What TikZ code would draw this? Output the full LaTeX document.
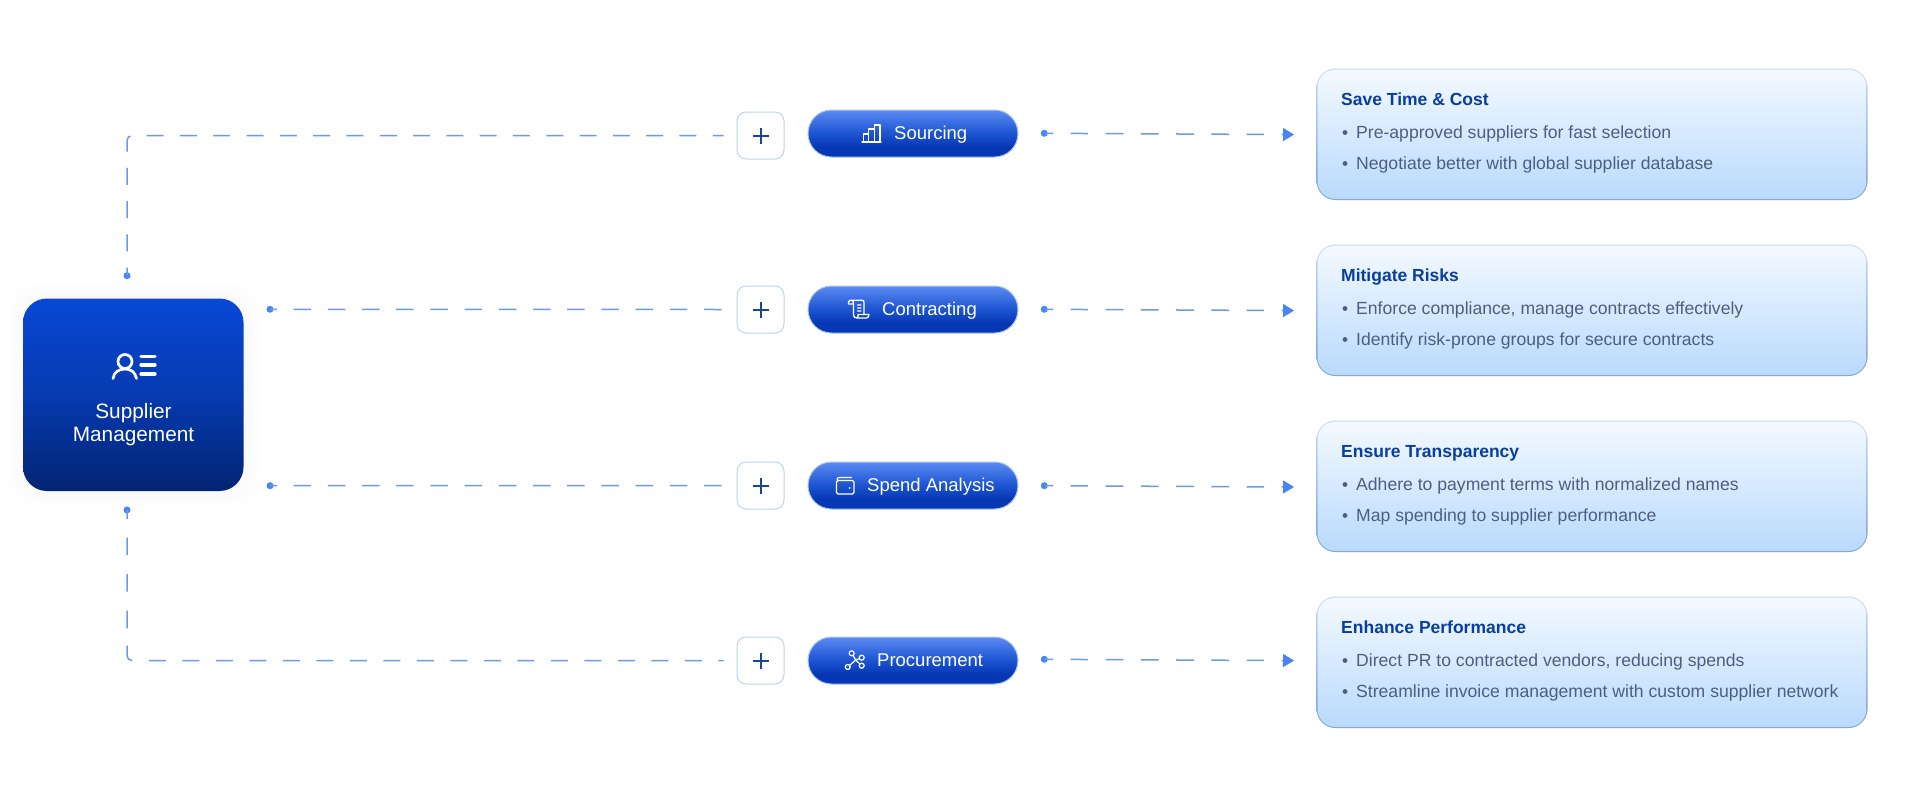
\documentclass[tikz,border=0pt]{standalone}
\usepackage{fontspec}
\setmainfont{Liberation Sans}
\usetikzlibrary{arrows.meta,calc}
\definecolor{mainT}{RGB}{8,72,214}
\definecolor{mainB}{RGB}{2,36,115}
\definecolor{pillT}{RGB}{92,138,242}
\definecolor{pillM}{RGB}{32,88,212}
\definecolor{pillB}{RGB}{6,56,180}
\definecolor{pillEdge}{RGB}{170,200,245}
\definecolor{cardT}{RGB}{243,249,255}
\definecolor{cardB}{RGB}{185,218,253}
\definecolor{cardEdge}{RGB}{196,220,246}
\definecolor{cardEdgeB}{RGB}{125,160,212}
\definecolor{plusEdge}{RGB}{190,212,236}
\definecolor{plusInk}{RGB}{22,70,150}
\definecolor{lineBlue}{RGB}{105,155,232}
\definecolor{dotBlue}{RGB}{72,132,245}
\definecolor{titleInk}{RGB}{10,62,158}
\definecolor{bodyInk}{RGB}{78,94,128}
\pgfdeclareverticalshading{pillsh}{100bp}{color(0bp)=(pillB); color(25bp)=(pillB); color(36bp)=(pillB); color(52bp)=(pillM); color(75bp)=(pillT); color(100bp)=(pillT)}
\pgfdeclareverticalshading{mainsh}{100bp}{color(0bp)=(mainB); color(25bp)=(mainB); color(50bp)=(mainT!62!mainB); color(75bp)=(mainT); color(100bp)=(mainT)}
\pgfdeclareverticalshading{cardsh}{100bp}{color(0bp)=(cardB); color(25bp)=(cardB); color(75bp)=(cardT); color(100bp)=(cardT)}
\pgfdeclareverticalshading{cardedgesh}{100bp}{color(0bp)=(cardEdgeB); color(25bp)=(cardEdgeB); color(75bp)=(cardEdge); color(100bp)=(cardEdge)}
\tikzset{
  mainbox/.style={shade,shading=mainsh,rounded corners=24pt,minimum width=220.5pt,minimum height=192.5pt,inner sep=0pt},
  glow/.style={rounded corners=28pt,fill=mainT,fill opacity=.005},
  pillbox/.style={shade,shading=pillsh,draw=pillEdge,line width=1pt,rounded corners=23.4pt,minimum width=210pt,minimum height=47pt,inner sep=0pt},
  plusbox/.style={draw=plusEdge,line width=1pt,fill=white,rounded corners=9pt,minimum width=47pt,minimum height=47pt,inner sep=0pt},
  plusmark/.style={draw=plusInk,line width=2pt},
  cardbox/.style={shade,shading=cardedgesh,rounded corners=19pt,minimum width=551pt,minimum height=131.5pt,inner sep=0pt},
  cardfill/.style={shade,shading=cardsh,rounded corners=18pt,minimum width=549pt,minimum height=129.5pt,inner sep=0pt},
  dotn/.style={circle,fill=dotBlue,minimum size=7pt,inner sep=0pt},
  conn/.style={draw=lineBlue,line width=1.5pt},
  leftdash/.style={conn,dash pattern=on 17.5pt off 16.7pt},
  rightdash/.style={conn,dash pattern=on 17.7pt off 17.5pt,dash phase=9pt,-{Triangle[length=11pt,width=13pt,color=dotBlue]}},
  icon/.style={draw=white,line width=1.5pt,line cap=round,line join=round},
  pilltext/.style={text=white,inner sep=0pt,font=\fontsize{18.5}{22}\selectfont,anchor=base west},
  maintext/.style={text=white,inner sep=0pt,align=center,font=\fontsize{20.8}{23.5}\selectfont},
  cardtitle/.style={text=titleInk,inner sep=0pt,anchor=base west,font=\fontsize{17.5}{21}\selectfont\bfseries},
  cardline/.style={text=bodyInk,inner sep=0pt,anchor=base west,font=\fontsize{17.6}{21}\selectfont},
  bull/.style={circle,fill=bodyInk,minimum size=4.8pt,inner sep=0pt},
}
\newcommand{\cardrow}[5]{%
  \node[cardbox] (card#1) at (1592,#2+65.25) {};
  \node[cardfill] (cardin#1) at (card#1.center) {};
  \node[cardtitle] (title#1) at (1341,#2+36) {#3};
  \node[bull] (bulletA#1) at (1345,#2+63.5) {};
  \node[cardline] (lineA#1) at (1356,#2+69) {#4};
  \node[bull] (bulletB#1) at (1345,#2+94.5) {};
  \node[cardline] (lineB#1) at (1356,#2+100) {#5};
}
\newcommand{\plusrow}[2]{%
  \node[plusbox] (plus#1) at (760.5,#2) {};
  \draw[plusmark] ($(plus#1.center)+(-8pt,0pt)$) -- ($(plus#1.center)+(8pt,0pt)$);
  \draw[plusmark] ($(plus#1.center)+(0pt,-8pt)$) -- ($(plus#1.center)+(0pt,8pt)$);
}
\newcommand{\rightrow}[3]{%
  \node[dotn] (rdot#1) at (1044.3,#2) {};
  \coordinate (rend#1) at (1294,#3);
  \path[rightdash] (rdot#1.center) -- (rend#1);
}
\begin{document}
\begin{tikzpicture}[x=1pt,y=-1pt]
\useasboundingbox (0,0) rectangle (1920,787);
\fill[white] (0,0) rectangle (1920,787);
% glow round the main box
\foreach \g in {16,13,10,7,4,2}{
  \fill[glow] (23-\g,298-\g) rectangle (243.5+\g,491+\g);
}
% main box
\node[mainbox] (main) at (133.25,394.75) {};
\node[maintext] (mainlabel) at (133.5,424.8) {Supplier\\Management};
% main icon
\draw[icon,line width=2.7pt] (125,361.5) circle (7pt);
\draw[icon,line width=2.7pt] (113,378.5) .. controls (114,372) and (119,369) .. (125,369) .. controls (131,369) and (135,372) .. (136.5,378.5);
\draw[icon,line width=3.2pt] (141,356.5) -- (155,356.5) (141,365) -- (155,365) (141,374) -- (155,374);
% plus boxes
\plusrow{A}{135.5}
\plusrow{B}{309.5}
\plusrow{C}{485.5}
\plusrow{D}{660.5}
% pills
\node[pillbox] (pillA) at (913,133.5) {};
\node[pillbox] (pillB) at (913,309.5) {};
\node[pillbox] (pillC) at (913,485.5) {};
\node[pillbox] (pillD) at (913,660.5) {};
\node[pilltext] (labelA) at (894,139.5) {Sourcing};
\node[pilltext] (labelB) at (882,315.5) {Contracting};
\node[pilltext] (labelC) at (867,491.5) {Spend Analysis};
\node[pilltext] (labelD) at (877,666.5) {Procurement};
% icons
\draw[icon,line width=1.3pt] (862,142) -- (881,142)
  (863.5,142) -- (863.5,134) -- (868.5,134) -- (868.5,142)
  (868.5,134) -- (868.5,129) -- (874.5,129) -- (874.5,142)
  (874.5,125) -- (880,125) -- (880,142) -- (874.5,142) (874.5,129) -- (874.5,125);
\draw[icon,line width=1.3pt] (848.5,302) .. controls (849,300.5) and (850,300.2) .. (851.5,300.2) -- (862,300.2) .. controls (863.5,300.2) and (864,301) .. (864,302.5) -- (864,313.5)
  (851.5,300.2) .. controls (853,300.5) and (853.5,302) .. (853.5,304) -- (853.5,315) .. controls (853.5,317) and (855,318) .. (857,318) -- (866.5,318) .. controls (868,318) and (868.8,316.5) .. (869,314.5) -- (858,314.5) -- (858,316) .. controls (858,317) and (857.5,318) .. (857,318)
  (848.5,302) -- (848.5,304) -- (853.5,304)
  (857.5,305) -- (861,305) (857.5,308) -- (861,308) (857.5,311) -- (861,311);
\draw[icon,line width=1.3pt,rounded corners=1.5pt] (836.5,480.5) rectangle (854,494);
\draw[icon,line width=1.3pt] (837,480) .. controls (837,478.5) and (838,477.5) .. (839.5,477.5) -- (851.5,477.5);
\fill[white] (849.5,488) circle (1pt);
\draw[icon,line width=1.2pt] (851.7,653.3) -- (855.7,660) -- (861.7,657.7) (855.7,660) -- (861.7,665.7) (855.7,660) -- (847.7,667);
\foreach \px/\py in {851.7/653.3,861.7/657.7,861.7/665.7,847.7/667}{
  \draw[icon,line width=1.2pt,fill=pillM] (\px,\py) circle (2.5pt);
}
% left dots and connectors
\node[dotn] (ldotA) at (127,275.7) {};
\node[dotn] (ldotB) at (270,309.3) {};
\node[dotn] (ldotC) at (270,485.7) {};
\node[dotn] (ldotD) at (127,510) {};
\path[conn,rounded corners=5pt,dash pattern=on 17pt off 16.3pt,dash phase=9pt] (ldotA.center) |- ($(plusA.west)+(-13pt,0pt)$);
\path[leftdash] ($(plusB.west)+(-15pt,0pt)$) -- (ldotB.center);
\path[leftdash] ($(plusC.west)+(-15pt,0pt)$) -- (ldotC.center);
\path[conn,rounded corners=5pt,dash pattern=on 9pt off 18.7pt on 17.3pt off 19pt on 17.7pt off 19pt on 17.6pt off 17.4pt on 17.8pt off 16.5pt on 17pt off 16.5pt on 17pt off 16.5pt on 17pt off 16.5pt on 17pt off 16.5pt on 17pt off 16.5pt on 17pt off 16.5pt on 17pt off 16.5pt on 17pt off 16.5pt on 17pt off 16.5pt on 17pt off 16.5pt on 17pt off 16.5pt on 17pt off 16.5pt on 17pt off 16.5pt on 17pt off 16.5pt on 17pt off 16.5pt on 17pt off 16.5pt on 17pt off 16.5pt on 17pt off 16.5pt] (ldotD.center) |- ($(plusD.west)+(-13pt,0pt)$);
% right connectors
\rightrow{A}{133.3}{134.6}
\rightrow{B}{309.3}{310.6}
\rightrow{C}{485.7}{487}
\rightrow{D}{659.3}{660.6}
% cards
\cardrow{A}{69}{Save Time \& Cost}{Pre-approved suppliers for fast selection}{Negotiate better with global supplier database}
\cardrow{B}{245}{Mitigate Risks}{Enforce compliance, manage contracts effectively}{Identify risk-prone groups for secure contracts}
\cardrow{C}{421}{Ensure Transparency}{Adhere to payment terms with normalized names}{Map spending to supplier performance}
\cardrow{D}{597}{Enhance Performance}{Direct PR to contracted vendors, reducing spends}{Streamline invoice management with custom supplier network}
\end{tikzpicture}
\end{document}
